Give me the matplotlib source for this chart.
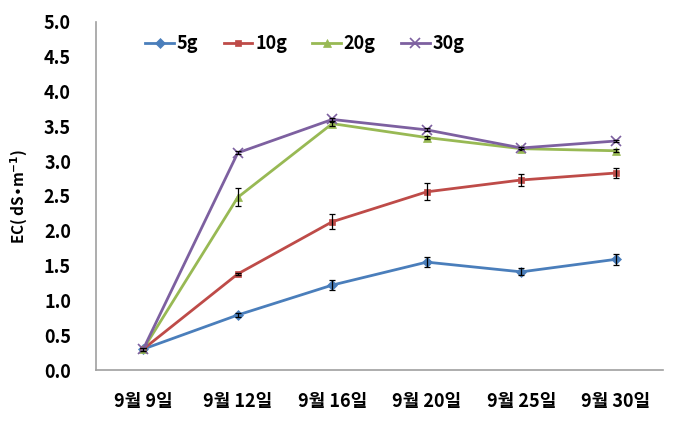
import matplotlib
matplotlib.use("Agg")
import matplotlib.pyplot as plt

plt.rcParams['font.family'] = ['Noto Sans CJK KR', 'DejaVu Sans']
plt.rcParams['font.weight'] = 'bold'

# =====================================================
# DATA
# =====================================================

dates = ["9월 9일", "9월 12일", "9월 16일", "9월 20일", "9월 25일", "9월 30일"]

ec_5g = [0.30, 0.79, 1.22, 1.55, 1.41, 1.59]
err_5g = [0.02, 0.03, 0.07, 0.07, 0.05, 0.08]

ec_10g = [0.30, 1.38, 2.13, 2.56, 2.73, 2.83]
err_10g = [0.02, 0.02, 0.11, 0.12, 0.08, 0.07]

ec_20g = [0.30, 2.48, 3.54, 3.34, 3.18, 3.15]
err_20g = [0.02, 0.13, 0.03, 0.02, 0.02, 0.02]

ec_30g = [0.30, 3.12, 3.60, 3.45, 3.19, 3.29]
err_30g = [0.02, 0.02, 0.02, 0.02, 0.02, 0.02]

y_ticks = [0.0, 0.5, 1.0, 1.5, 2.0, 2.5, 3.0, 3.5, 4.0, 4.5, 5.0]

# =====================================================
# PLOT
# =====================================================

fig = plt.figure(figsize=(6.78, 4.33), dpi=100)
ax = fig.add_axes([96 / 678, (433 - 370) / 433, (663 - 96) / 678, (370 - 22) / 433])

x = list(range(len(dates)))
series = [
    ("5g", ec_5g, err_5g, "#4A7EBB", "D", 5),
    ("10g", ec_10g, err_10g, "#BE4B48", "s", 5),
    ("20g", ec_20g, err_20g, "#98B954", "^", 6),
    ("30g", ec_30g, err_30g, "#7D60A0", "x", 7),
]

for label, vals, errs, color, marker, ms in series:
    ax.plot(x, vals, color=color, marker=marker, markersize=ms, lw=2,
            markeredgewidth=1.2 if marker == "x" else 0.5, label=label)
    ax.errorbar(x, vals, yerr=errs, fmt="none", ecolor="black",
                elinewidth=0.9, capsize=2.5, capthick=0.9)

ax.set_xlim(-0.5, len(dates) - 0.5)
ax.set_ylim(0, 5.0)
ax.set_yticks(y_ticks)
ax.set_yticklabels([f"{v:.1f}" for v in y_ticks], fontsize=13, fontweight="bold")
ax.set_xticks(x)
ax.set_xticklabels(dates, fontsize=13, fontweight="bold")
ax.tick_params(axis="y", length=0, pad=18)
ax.tick_params(axis="x", length=0, pad=16)

for side in ["top", "right"]:
    ax.spines[side].set_visible(False)
for side in ["left", "bottom"]:
    ax.spines[side].set_color("#A0A0A0")
    ax.spines[side].set_linewidth(1.2)

ax.set_ylabel("EC( dS•m$^{-1}$)", fontsize=11, fontweight="bold", labelpad=10)

ax.legend(loc="upper left", bbox_to_anchor=(0.058, 1.012), ncol=4, frameon=False,
          handlelength=1.6, columnspacing=1.4, handletextpad=0.15,
          prop={"weight": "bold", "size": 13})

fig.savefig("out.png", dpi=100)
